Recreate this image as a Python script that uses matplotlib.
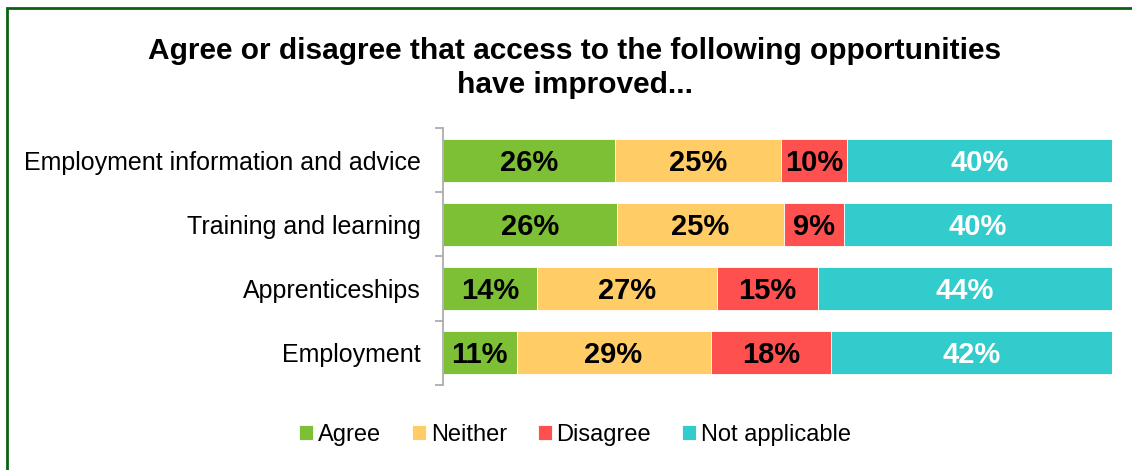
import numpy as np
import matplotlib
matplotlib.use('Agg')
import matplotlib.pyplot as plt
from matplotlib.patches import Rectangle

plt.rcParams['font.family'] = ['Liberation Sans', 'DejaVu Sans']

# data (percent, as labelled on the bars)
categories = ['Employment information and advice', 'Training and learning',
              'Apprenticeships', 'Employment']
series_names = ['Agree', 'Neither', 'Disagree', 'Not applicable']
agree = [26, 26, 14, 11]
neither = [25, 25, 27, 29]
disagree = [10, 9, 15, 18]
not_applicable = [40, 40, 44, 42]

colors = ['#7DC035', '#FFCC66', '#FF5050', '#33CCCC']
text_colors = ['black', 'black', 'black', 'white']

values = np.array([agree, neither, disagree, not_applicable], dtype=float)
totals = values.sum(axis=0)
shares = values / totals * 100  # bars fill 100% width

fig = plt.figure(figsize=(11.32, 4.70), dpi=100)
ax = fig.add_axes([0.3913, 0.1809, 0.9823 - 0.3913, 0.7277 - 0.1809])

y_pos = np.arange(len(categories))
left = np.zeros(len(categories))
for i, name in enumerate(series_names):
    ax.barh(y_pos, shares[i], left=left, height=0.67, color=colors[i],
            label=name, edgecolor='white', linewidth=0.6)
    for j in range(len(categories)):
        ax.text(left[j] + shares[i][j] / 2, y_pos[j] + 0.04, '%d%%' % values[i][j],
                ha='center', va='center', fontsize=21, fontweight='bold',
                color=text_colors[i])
    left += shares[i]

ax.set_xlim(0, 100)
ax.set_ylim(len(categories) - 0.5, -0.5)
ax.set_xticks([])
ax.set_yticks(y_pos)
ax.set_yticklabels(categories, fontsize=18)
ax.set_yticks(np.arange(-0.5, len(categories)), minor=True)
ax.tick_params(axis='y', which='major', length=0, pad=16)
ax.tick_params(axis='y', which='minor', length=6, width=1.2, color='#A6A6A6')
for s in ['top', 'right', 'bottom']:
    ax.spines[s].set_visible(False)
ax.spines['left'].set_color('#A6A6A6')
ax.spines['left'].set_linewidth(1.2)

fig.text(0.508, 0.922, 'Agree or disagree that access to the following opportunities\nhave improved...',
         ha='center', va='top', fontsize=21.5, fontweight='bold', linespacing=1.27)

fig.legend(loc='center', bbox_to_anchor=(0.508, 0.075), ncol=4, frameon=False,
           fontsize=17, handlelength=0.6, handleheight=0.6, handletextpad=0.2,
           columnspacing=1.3)

# outer chart border
fig.patches.append(Rectangle((6.5 / 1132, -0.2), 1.5, 1.2 - 8 / 470, transform=fig.transFigure,
                             fill=False, edgecolor='#0B6113', linewidth=2))

fig.savefig('out.png', dpi=100)
